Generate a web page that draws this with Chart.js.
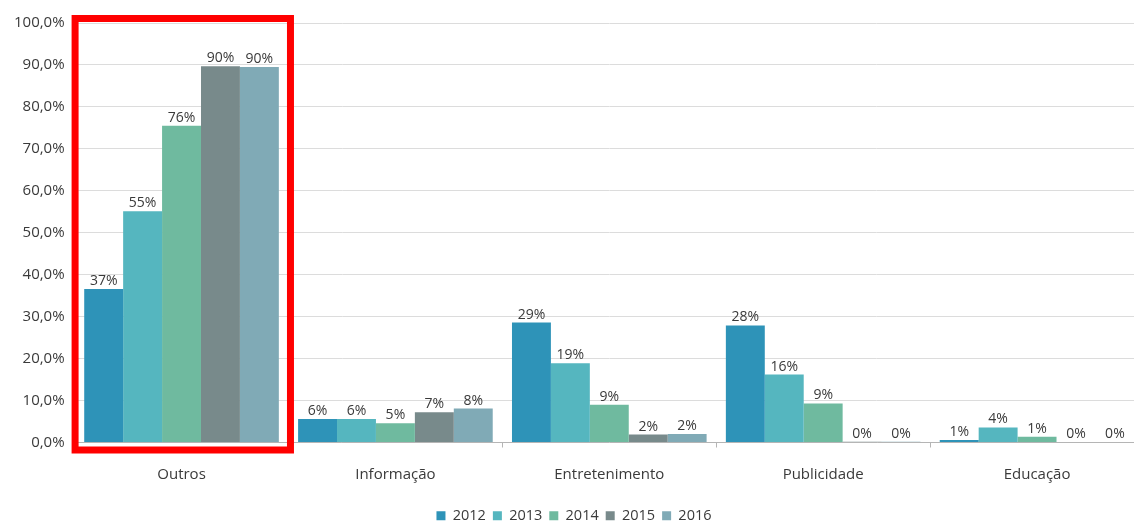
<!DOCTYPE html>
<html>
<head>
<meta charset="utf-8">
<script src="https://cdn.jsdelivr.net/npm/chart.js@4/dist/chart.umd.min.js"></script>
<style>
  html, body { margin: 0; padding: 0; background: #ffffff; overflow: hidden; }
  #wrap { width: 1144px; height: 535px; }
</style>
</head>
<body>
<div id="wrap"><canvas id="c"></canvas></div>
<script>
// Categories and yearly shares (%)
const categories = ['Outros', 'Informação', 'Entretenimento', 'Publicidade', 'Educação'];
const years = ['2012', '2013', '2014', '2015', '2016'];
const v2012 = [36.6, 5.6, 28.6, 27.9, 0.6];
const v2013 = [55.1, 5.6, 18.9, 16.2, 3.6];
const v2014 = [75.5, 4.6, 9.0, 9.3, 1.4];
const v2015 = [89.7, 7.2, 1.9, 0.2, 0.1];
const v2016 = [89.5, 8.1, 2.0, 0.2, 0.1];
const yTicks = [0, 10, 20, 30, 40, 50, 60, 70, 80, 90, 100];

const seriesValues = [v2012, v2013, v2014, v2015, v2016];
const seriesColors = ['#2e93b8', '#55b6bf', '#6fba9f', '#788a8b', '#80aab6'];

const FONT = "'Open Sans', 'DejaVu Sans', sans-serif";

// Percentage labels above each bar
const valueLabels = {
  id: 'valueLabels',
  afterDatasetsDraw(chart) {
    const ctx = chart.ctx;
    ctx.save();
    ctx.font = '14px ' + FONT;
    ctx.fillStyle = '#3a3a3a';
    ctx.textAlign = 'center';
    ctx.textBaseline = 'bottom';
    chart.data.datasets.forEach((ds, di) => {
      chart.getDatasetMeta(di).data.forEach((bar, i) => {
        ctx.fillText(Math.round(ds.data[i]) + '%', bar.x, bar.y - 1);
      });
    });
    ctx.restore();
  }
};

// Red frame highlighting the first category
const highlight = {
  id: 'highlight',
  afterDraw(chart) {
    const x = chart.scales.x, y = chart.scales.y;
    const step = (x.getPixelForValue(1) - x.getPixelForValue(0));
    const cx = x.getPixelForValue(0);
    const ctx = chart.ctx;
    ctx.save();
    ctx.strokeStyle = '#ff0000';
    ctx.lineWidth = 7;
    const left = cx - step / 2 + 0.5;
    const right = cx + step / 2 + 2;
    const top = y.getPixelForValue(100) - 4.5;
    const bottom = y.getPixelForValue(0) + 7.5;
    ctx.strokeRect(left, top, right - left, bottom - top);
    ctx.restore();
  }
};

new Chart(document.getElementById('c'), {
  type: 'bar',
  data: {
    labels: categories,
    datasets: years.map((yr, i) => ({
      label: yr,
      data: seriesValues[i],
      backgroundColor: seriesColors[i],
      borderWidth: 0,
      categoryPercentage: 0.91,
      barPercentage: 1.0
    }))
  },
  options: {
    responsive: true,
    maintainAspectRatio: false,
    animation: false,
    layout: { padding: { top: 23, right: 0, bottom: 2, left: 4 } },
    plugins: {
      legend: {
        position: 'bottom',
        align: 'center',
        labels: {
          boxWidth: 9,
          boxHeight: 9,
          padding: 7,
          color: '#3a3a3a',
          font: { family: FONT, size: 14.5 }
        }
      },
      tooltip: { enabled: false }
    },
    scales: {
      x: {
        offset: true,
        grid: {
          offset: true,
          drawOnChartArea: false,
          drawTicks: true,
          tickLength: 5,
          color: '#b5b5b5'
        },
        border: { color: '#b5b5b5', width: 1 },
        ticks: {
          color: '#3a3a3a',
          font: { family: FONT, size: 15 },
          padding: 18
        }
      },
      y: {
        min: 0,
        max: 100,
        afterBuildTicks(scale) { scale.ticks = yTicks.map(v => ({ value: v })); },
        grid: { color: '#dcdcdc', drawTicks: false },
        border: { display: false },
        ticks: {
          color: '#3a3a3a',
          font: { family: FONT, size: 15 },
          padding: 10,
          callback: v => v.toFixed(1).replace('.', ',') + '%'
        }
      }
    }
  },
  plugins: [valueLabels, highlight]
});
</script>
</body>
</html>
